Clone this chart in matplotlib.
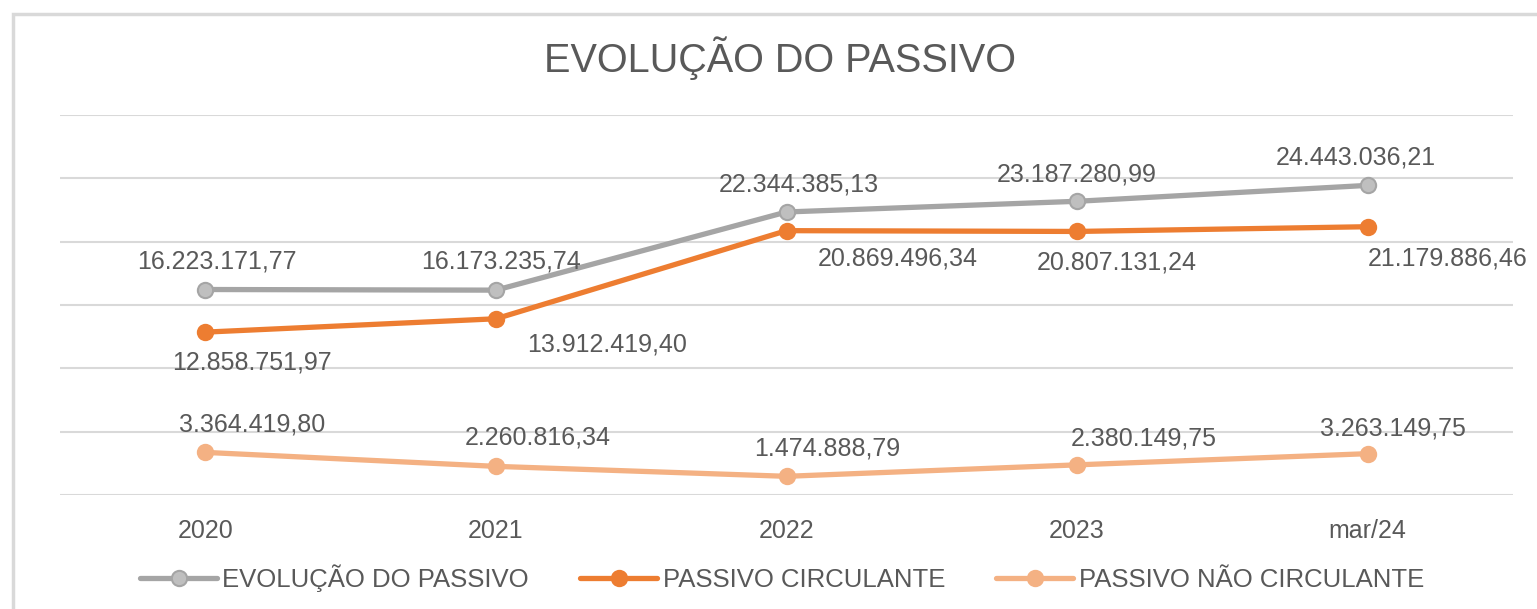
import numpy as np
import matplotlib.pyplot as plt
from matplotlib.patches import Rectangle

plt.rcParams['font.family'] = ['Liberation Sans', 'DejaVu Sans']

periodos = ['2020', '2021', '2022', '2023', 'mar/24']
total = [16223171.77, 16173235.74, 22344385.13, 23187280.99, 24443036.21]
circulante = [12858751.97, 13912419.40, 20869496.34, 20807131.24, 21179886.46]
nao_circulante = [3364419.80, 2260816.34, 1474888.79, 2380149.75, 3263149.75]

def fmt(v):
    s = f'{v:,.2f}'
    return s.replace(',', 'X').replace('.', ',').replace('X', '.')

txt = '#595959'
fig = plt.figure(figsize=(15.37, 6.09), dpi=100)
fig.patches.append(Rectangle((13/1537, -0.05), 1.05, (609-14)/609 + 0.05,
                             transform=fig.transFigure, fill=False,
                             edgecolor='#d9d9d9', linewidth=2.5))
ax = fig.add_axes([60/1537, 114/609, 1453/1537, 380/609])
x = np.arange(len(periodos))

series = [
    ('EVOLUÇÃO DO PASSIVO', total, '#a5a5a5', '#bfbfbf'),
    ('PASSIVO CIRCULANTE', circulante, '#ed7d31', '#ed7d31'),
    ('PASSIVO NÃO CIRCULANTE', nao_circulante, '#f4b183', '#f4b183'),
]
for nome, vals, cor, mfc in series:
    ax.plot(x, vals, color=cor, lw=3.8, marker='o', ms=11,
            markerfacecolor=mfc, markeredgecolor=cor, markeredgewidth=1.5,
            label=nome, solid_capstyle='round')

# label offsets in pixels (dx, dy)
offs = [
    [(12, 28), (5, 29), (12, 27), (0, 27), (-12, 28)],
    [(47, -30), (111, -26), (111, -28), (40, -31), (80, -32)],
    [(47, 28), (42, 29), (41, 28), (67, 26), (25, 25)],
]
for (nome, vals, cor, mfc), off in zip(series, offs):
    for xi, v, (dx, dy) in zip(x, vals, off):
        ax.annotate(fmt(v), (xi, v), xytext=(dx, dy), textcoords='offset pixels',
                    ha='center', va='center', fontsize=18, color=txt,
                    annotation_clip=False)

ax.set_xlim(-0.5, len(periodos) - 0.5)
ax.set_ylim(0, 30e6)
ax.set_yticks(np.arange(0, 30e6 + 1, 5e6))
ax.set_yticklabels([])
ax.tick_params(axis='y', length=0)
ax.set_xticks(x)
ax.set_xticklabels(periodos, fontsize=18, color=txt)
ax.tick_params(axis='x', length=0, pad=17)
ax.grid(axis='y', color='#d9d9d9', lw=1.5)
ax.set_axisbelow(True)
for s in ax.spines.values():
    s.set_visible(False)

fig.text(780/1537, 1 - 58/609, 'EVOLUÇÃO DO PASSIVO', ha='center', va='center',
         fontsize=28.5, color=txt)
fig.legend(loc='center', bbox_to_anchor=(782/1537, 1 - 578/609), ncol=3,
           frameon=False, fontsize=18.5, handlelength=3.0, handletextpad=0.2,
           columnspacing=2.0, labelcolor=txt)

fig.savefig('out.png', dpi=100)
